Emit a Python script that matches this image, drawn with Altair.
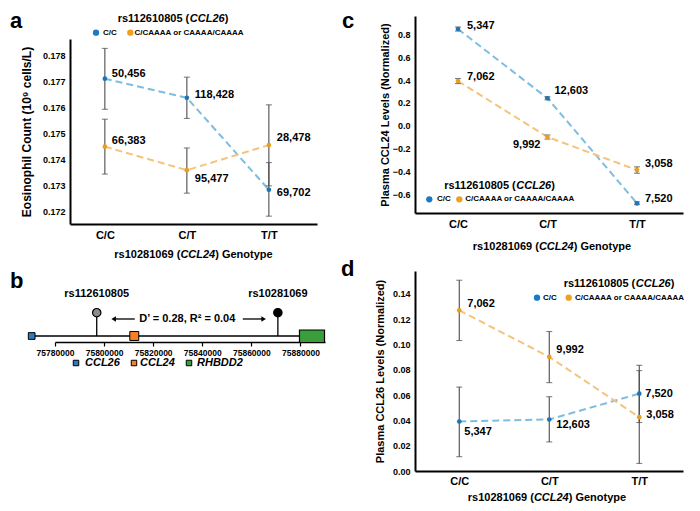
import altair as alt
import pandas as pd

FONT = "Liberation Sans"

# ---------------- data ----------------
genotypes = ["C/C", "C/T", "T/T"]
groups = ["C/C", "C/CAAAA or CAAAA/CAAAA"]
snp_title = [("rs112610805 (", False), ("CCL26", True), (")", False)]
x_title = [("rs10281069 (", False), ("CCL24", True), (") Genotype", False)]

# panel a: eosinophil count
a_blue_mean = [0.17710, 0.17637, 0.17285]
a_blue_lo = [0.17593, 0.17558, 0.17184]
a_blue_hi = [0.17826, 0.17716, 0.17389]
a_blue_n = ["50,456", "118,428", "69,702"]
a_orange_mean = [0.17450, 0.17360, 0.17456]
a_orange_lo = [0.17345, 0.17272, 0.17300]
a_orange_hi = [0.17555, 0.17445, 0.17610]
a_orange_n = ["66,383", "95,477", "28,478"]

# panel c: plasma CCL24
c_blue_mean = [0.847, 0.241, -0.678]
c_blue_lo = [0.829, 0.228, -0.690]
c_blue_hi = [0.865, 0.254, -0.666]
c_blue_n = ["5,347", "12,603", "7,520"]
c_orange_mean = [0.392, -0.098, -0.387]
c_orange_lo = [0.370, -0.116, -0.415]
c_orange_hi = [0.414, -0.080, -0.359]
c_orange_n = ["7,062", "9,992", "3,058"]

# panel d: plasma CCL26
d_blue_mean = [0.0391, 0.0407, 0.0611]
d_blue_lo = [0.0113, 0.0230, 0.0383]
d_blue_hi = [0.0663, 0.0587, 0.0793]
d_blue_n = ["5,347", "12,603", "7,520"]
d_orange_mean = [0.1269, 0.0901, 0.0425]
d_orange_lo = [0.1031, 0.0698, 0.0060]
d_orange_hi = [0.1507, 0.1102, 0.0835]
d_orange_n = ["7,062", "9,992", "3,058"]

# panel b: locus diagram
genes = ["CCL26", "CCL24", "RHBDD2"]
gene_start = [75770500, 75812300, 75879600]
gene_end = [75770500, 75812300, 75889800]
snps = ["rs112610805", "rs10281069"]
snp_pos = [75797000, 75870800]
ld_text = "D\u2019 = 0.28, R\u00b2 = 0.04"
arrow_left = [75803900, 75812500]
arrow_right = [75856500, 75865000]
b_ticks = [75780000, 75800000, 75820000, 75840000, 75860000, 75880000]

# ---------------- styles ----------------
BLUE_PT, BLUE_LN, BLUE_LEG = "#1f74b6", "#7dbde0", "#1a7ac4"
OR_PT, OR_LN, OR_LEG = "#e89e22", "#f3c47a", "#f0a020"
ERR = "#4d4d4d"
gene_colors = ["#2b7bba", "#f58025", "#3a9e3a"]
snp_fill = ["#8c8c8c", "#000000"]

W = {' ': 278, '(': 333, ')': 333, 'r': 389, 's': 556, 'C': 722, 'L': 611,
     'G': 778, 'e': 556, 'n': 611, 'o': 611, 't': 333, 'y': 556, 'p': 611}


def txt(text, x, y, size, style="normal", align="left", baseline="middle"):
    return alt.Chart(pd.DataFrame({"t": [text]})).mark_text(
        align=align, baseline=baseline, fontSize=size, fontWeight="bold",
        fontStyle=style, font=FONT, color="black"
    ).encode(x=alt.value(x), y=alt.value(y), text="t:N")


def mixed(parts, cx, cy, size):
    widths = [sum(W.get(ch, 556) for ch in t) * size / 1000 for t, _ in parts]
    x = cx - sum(widths) / 2
    out = []
    for (t, it), w in zip(parts, widths):
        out.append(txt(t, x, cy, size, style="italic" if it else "normal"))
        x += w
    return out


def dot(x, y, color, size=40):
    return alt.Chart(pd.DataFrame({"v": [0]})).mark_circle(
        size=size, color=color, opacity=1).encode(x=alt.value(x), y=alt.value(y))


def legend(tcx, tcy, iy, bx, btx, ox, otx):
    return (mixed(snp_title, tcx, tcy, 11)
            + [dot(bx, iy, BLUE_LEG), txt(groups[0], btx, iy, 8),
               dot(ox, iy, OR_LEG), txt(groups[1], otx, iy, 8)])


def line_panel(s):
    xscale = alt.Scale(type="point", padding=s["xpad"], align=s["xalign"])
    xaxis = alt.Axis(title=None, labelAngle=0, ticks=False, domainColor="black",
                     domainWidth=2, labelFont=FONT, labelFontSize=11,
                     labelFontWeight="bold", labelColor="black",
                     labelPadding=s["xlabpad"], grid=False)
    sc = dict(domain=s["ydomain"], nice=False, zero=False)
    if s.get("yrange"):
        sc["range"] = s["yrange"]
    yscale = alt.Scale(**sc)
    yaxis = alt.Axis(title=s["ytitle"], values=s["yticks"], format=s["yfmt"],
                     ticks=False, domainColor="black", domainWidth=2,
                     labelFont=FONT, labelFontSize=9, labelFontWeight="bold",
                     labelColor="black", labelPadding=5, titleFont=FONT,
                     titleFontSize=s["ytsize"], titleFontWeight="bold",
                     titleColor="black", titlePadding=s["ytpad"],
                     minExtent=s["yext"], maxExtent=s["yext"], grid=False)
    X = alt.X("genotype:N", sort=genotypes, scale=xscale, axis=xaxis)

    def Y(f):
        return alt.Y(f"{f}:Q", scale=yscale, axis=yaxis)

    lines, errs, pts, labs = [], [], [], []
    for g in s["groups"]:
        df = pd.DataFrame({"genotype": genotypes, "mean": g["mean"],
                           "lo": g["lo"], "hi": g["hi"], "n": g["n"]})
        base = alt.Chart(df)
        lines.append(base.mark_line(color=g["ln"], strokeDash=[7, 4],
                                    strokeWidth=2).encode(x=X, y=Y("mean")))
        errs.append(base.mark_rule(color=ERR, strokeWidth=1.1).encode(
            x=X, y=Y("lo"), y2="hi:Q"))
        errs.append(base.mark_tick(color=ERR, size=6, thickness=1.1).encode(
            x=X, y=Y("lo")))
        errs.append(base.mark_tick(color=ERR, size=6, thickness=1.1).encode(
            x=X, y=Y("hi")))
        pts.append(base.mark_circle(size=22, color=g["pt"], opacity=1).encode(
            x=X, y=Y("mean")))
        for i, (dx, dy, al) in enumerate(g["off"]):
            labs.append(alt.Chart(df.iloc[[i]]).mark_text(
                align=al, baseline="middle", dx=dx, dy=dy, fontSize=11,
                fontWeight="bold", font=FONT, color="black"
            ).encode(x=X, y=Y("mean"), text="n:N"))
    extra = [txt(s["letter"], s["lx"], s["ly"], 22, baseline="alphabetic")]
    extra += mixed(x_title, s["xtx"], s["xty"], 11)
    extra += legend(*s["legend"])
    return alt.layer(*(lines + errs + pts + labs + extra)).properties(
        width=s["w"], height=s["h"])


panel_a = line_panel(dict(
    letter="a", lx=-60, ly=12, w=247, h=208, xpad=0.506, xalign=0.42, xlabpad=5,
    ydomain=[0.17154, 0.17862], yrange=[208, 23],
    yticks=[0.172, 0.173, 0.174, 0.175, 0.176, 0.177, 0.178], yfmt=".3f",
    ytitle="Eosinophil Count (10\u2079 cells/L)", ytsize=12, ytpad=9, yext=28,
    xtx=123.5, xty=239, legend=(103, 3.3, 16.7, 26, 33, 60.3, 64.5),
    groups=[
        dict(mean=a_blue_mean, lo=a_blue_lo, hi=a_blue_hi, n=a_blue_n,
             ln=BLUE_LN, pt=BLUE_PT,
             off=[(7, -5, "left"), (8, -3, "left"), (8, 3, "left")]),
        dict(mean=a_orange_mean, lo=a_orange_lo, hi=a_orange_hi, n=a_orange_n,
             ln=OR_LN, pt=OR_PT,
             off=[(7, -6, "left"), (8, 9, "left"), (8, -7, "left")]),
    ]))

panel_c = line_panel(dict(
    letter="c", lx=-73, ly=11.7, w=268, h=197, xpad=0.497, xalign=0.483,
    xlabpad=5, ydomain=[-0.763, 0.961], yrange=None,
    yticks=[-0.6, -0.4, -0.2, 0.0, 0.2, 0.4, 0.6, 0.8], yfmt=".1f",
    ytitle="Plasma CCL24 Levels (Normalized)", ytsize=11, ytpad=3, yext=22,
    xtx=137, xty=231, legend=(84.5, 170, 183.3, 14.3, 22, 44.3, 50.3),
    groups=[
        dict(mean=c_blue_mean, lo=c_blue_lo, hi=c_blue_hi, n=c_blue_n,
             ln=BLUE_LN, pt=BLUE_PT,
             off=[(9, -3, "left"), (7, -7, "left"), (8, -4, "left")]),
        dict(mean=c_orange_mean, lo=c_orange_lo, hi=c_orange_hi, n=c_orange_n,
             ln=OR_LN, pt=OR_PT,
             off=[(9, -4, "left"), (-7, 8, "right"), (8, -6, "left")]),
    ]))

panel_d = line_panel(dict(
    letter="d", lx=-74, ly=5, w=268, h=200, xpad=0.489, xalign=0.503,
    xlabpad=4, ydomain=[0.0, 0.158], yrange=None,
    yticks=[0.0, 0.02, 0.04, 0.06, 0.08, 0.10, 0.12, 0.14], yfmt=".2f",
    ytitle="Plasma CCL26 Levels (Normalized)", ytsize=11, ytpad=6.5, yext=23,
    xtx=132, xty=227, legend=(204, 13.3, 26.7, 122, 128, 153.7, 160),
    groups=[
        dict(mean=d_blue_mean, lo=d_blue_lo, hi=d_blue_hi, n=d_blue_n,
             ln=BLUE_LN, pt=BLUE_PT,
             off=[(5, 10, "left"), (7, 6, "left"), (6, 0, "left")]),
        dict(mean=d_orange_mean, lo=d_orange_lo, hi=d_orange_hi, n=d_orange_n,
             ln=OR_LN, pt=OR_PT,
             off=[(8, -6, "left"), (7, -7, "left"), (7, -2, "left")]),
    ]))

# ---------------- panel b ----------------
bx_scale = alt.Scale(domain=[75780000, 75890000], range=[-15, 255], nice=False,
                     zero=False)
bx_axis = alt.Axis(title=None, values=b_ticks, format="d", tickSize=4,
                   tickColor="black", tickWidth=1.2, domainColor="black",
                   domainWidth=1.3, labelFont=FONT, labelFontSize=8.5,
                   labelFontWeight="bold", labelColor="black", labelPadding=2,
                   labelFlush=False, labelOverlap=False, grid=False)
by_scale = alt.Scale(domain=[0, 1], range=[65, 41.7], nice=False, zero=False)


def BX(f):
    return alt.X(f"{f}:Q", scale=bx_scale, axis=bx_axis)


def BY(f):
    return alt.Y(f"{f}:Q", scale=by_scale, axis=None)


gene_df = pd.DataFrame({"gene": genes, "start": gene_start, "end": gene_end,
                        "lvl": [0, 0, 0]})
b_layers = []
track = pd.DataFrame({"x1": [gene_start[0]], "x2": [gene_start[2]], "lvl": [0]})
b_layers.append(alt.Chart(track).mark_rule(color="black", strokeWidth=1.3).encode(
    x=BX("x1"), x2="x2:Q", y=BY("lvl")))
snp_df = pd.DataFrame({"snp": snps, "pos": snp_pos, "base": [0, 0],
                       "head": [1, 1], "lab": [1.8, 1.8]})
b_layers.append(alt.Chart(snp_df).mark_rule(color="black", strokeWidth=1.3).encode(
    x=BX("pos"), y=BY("base"), y2="head:Q"))
b_layers.append(alt.Chart(snp_df).mark_point(
    filled=True, size=70, stroke="black", strokeWidth=1.2, opacity=1).encode(
    x=BX("pos"), y=BY("head"),
    fill=alt.Fill("snp:N", scale=alt.Scale(domain=snps, range=snp_fill),
                  legend=None)))
b_layers.append(alt.Chart(snp_df).mark_text(
    fontSize=11, fontWeight="bold", font=FONT, color="black",
    baseline="middle").encode(x=BX("pos"), y=BY("lab"), text="snp:N"))
for i, sz in zip([0, 1], [45, 80]):
    b_layers.append(alt.Chart(gene_df.iloc[[i]]).mark_square(
        size=sz, color=gene_colors[i], stroke="black", strokeWidth=1,
        opacity=1).encode(x=BX("start"), y=BY("lvl")))
b_layers.append(alt.Chart(gene_df.iloc[[2]]).mark_rect(
    color=gene_colors[2], stroke="black", strokeWidth=1.2).encode(
    x=BX("start"), x2="end:Q", y=alt.value(59), y2=alt.value(71.5)))
ld_df = pd.DataFrame({"x": [(snp_pos[0] + snp_pos[1]) / 2], "lvl": [0.73],
                      "t": [ld_text]})
b_layers.append(alt.Chart(ld_df).mark_text(
    fontSize=11, fontWeight="bold", font=FONT, color="black",
    baseline="middle").encode(x=BX("x"), y=BY("lvl"), text="t:N"))
arr_df = pd.DataFrame({"x1": [arrow_left[0], arrow_right[0]],
                       "x2": [arrow_left[1], arrow_right[1]],
                       "lvl": [0.73, 0.73]})
b_layers.append(alt.Chart(arr_df).mark_rule(color="black", strokeWidth=1.3).encode(
    x=BX("x1"), x2="x2:Q", y=BY("lvl")))
b_layers.append(alt.Chart(arr_df.iloc[[0]]).mark_point(
    shape="triangle-left", filled=True, size=28, color="black", opacity=1).encode(
    x=BX("x1"), y=BY("lvl")))
b_layers.append(alt.Chart(arr_df.iloc[[1]]).mark_point(
    shape="triangle-right", filled=True, size=28, color="black", opacity=1).encode(
    x=BX("x2"), y=BY("lvl")))
# legend for genes
for gx, tx, g, col in zip([6, 64, 119], [15, 70, 127], genes, gene_colors):
    b_layers.append(alt.Chart(pd.DataFrame({"v": [0]})).mark_square(
        size=30, color=col, stroke="black", strokeWidth=1, opacity=1).encode(
        x=alt.value(gx), y=alt.value(92)))
    b_layers.append(txt(g, tx, 92, 11, style="italic"))
b_layers.append(txt("b", -60, 16.7, 22, baseline="alphabetic"))
panel_b = alt.layer(*b_layers).properties(width=247, height=71)

chart = alt.concat(
    panel_a, panel_c, panel_b, panel_d, columns=2,
    spacing={"row": 47, "column": 98}, bounds="flush", align="each"
).properties(
    padding={"left": 2, "top": 1, "right": 5, "bottom": 5},
    background="white"
).configure_view(stroke=None)

chart.save("out.html", embed_options={"renderer": "svg", "actions": False})
